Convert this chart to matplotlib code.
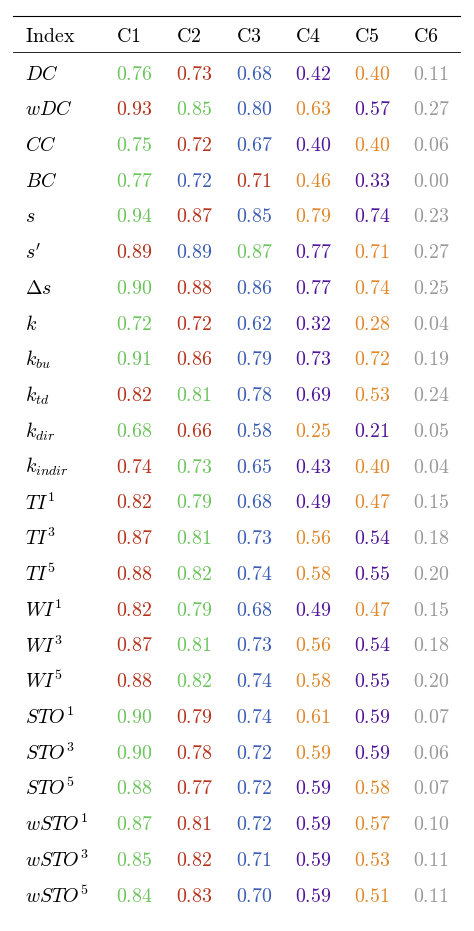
import matplotlib
matplotlib.use("Agg")
import matplotlib.pyplot as plt

plt.rcParams['mathtext.fontset'] = 'cm'

columns = ["Index", "C1", "C2", "C3", "C4", "C5", "C6"]
index_labels = [r"DC", r"wDC", r"CC", r"BC", r"s", r"s'", r"\Delta s", r"k",
                r"k_{bu}", r"k_{td}", r"k_{dir}", r"k_{indir}",
                r"TI^1", r"TI^3", r"TI^5", r"WI^1", r"WI^3", r"WI^5",
                r"STO^1", r"STO^3", r"STO^5", r"wSTO^1", r"wSTO^3", r"wSTO^5"]
values = [
    [0.76, 0.73, 0.68, 0.42, 0.40, 0.11],
    [0.93, 0.85, 0.80, 0.63, 0.57, 0.27],
    [0.75, 0.72, 0.67, 0.40, 0.40, 0.06],
    [0.77, 0.72, 0.71, 0.46, 0.33, 0.00],
    [0.94, 0.87, 0.85, 0.79, 0.74, 0.23],
    [0.89, 0.89, 0.87, 0.77, 0.71, 0.27],
    [0.90, 0.88, 0.86, 0.77, 0.74, 0.25],
    [0.72, 0.72, 0.62, 0.32, 0.28, 0.04],
    [0.91, 0.86, 0.79, 0.73, 0.72, 0.19],
    [0.82, 0.81, 0.78, 0.69, 0.53, 0.24],
    [0.68, 0.66, 0.58, 0.25, 0.21, 0.05],
    [0.74, 0.73, 0.65, 0.43, 0.40, 0.04],
    [0.82, 0.79, 0.68, 0.49, 0.47, 0.15],
    [0.87, 0.81, 0.73, 0.56, 0.54, 0.18],
    [0.88, 0.82, 0.74, 0.58, 0.55, 0.20],
    [0.82, 0.79, 0.68, 0.49, 0.47, 0.15],
    [0.87, 0.81, 0.73, 0.56, 0.54, 0.18],
    [0.88, 0.82, 0.74, 0.58, 0.55, 0.20],
    [0.90, 0.79, 0.74, 0.61, 0.59, 0.07],
    [0.90, 0.78, 0.72, 0.59, 0.59, 0.06],
    [0.88, 0.77, 0.72, 0.59, 0.58, 0.07],
    [0.87, 0.81, 0.72, 0.59, 0.57, 0.10],
    [0.85, 0.82, 0.71, 0.59, 0.53, 0.11],
    [0.84, 0.83, 0.70, 0.59, 0.51, 0.11],
]
color_codes = [
    "grbpoy", "rgbopy", "grbpoy", "gbropy", "grbopy", "rbgpoy", "grbpoy", "grbpoy",
    "grbpoy", "rgbpoy", "grbopy", "rgbpoy", "rgbpoy", "rgbopy", "rgbopy", "rgbpoy",
    "rgbopy", "rgbopy", "grbopy", "grbopy", "grbpoy", "grbpoy", "grbpoy", "grbpoy",
]
palette = {"g": "#6cc45c", "r": "#b5321c", "b": "#3a5cb4", "p": "#51159a",
           "o": "#e0872a", "y": "#999999"}

W, H = 474, 931
fig = plt.figure(figsize=(W/100, H/100), dpi=100)
ax = fig.add_axes([0, 0, 1, 1])
ax.set_xlim(0, W); ax.set_ylim(H, 0); ax.axis('off')

col_x = [25, 116, 176, 236, 295, 354, 413]
fs = 14.3
ax.plot([13, 460], [16, 16], color='black', lw=0.8)
ax.plot([13, 460], [52, 52], color='black', lw=0.6)
for x, c in zip(col_x, columns):
    ax.text(x, 37, r"$\mathrm{%s}$" % c, fontsize=fs, va='center', ha='left')
y0, dy = 74, (896 - 74) / 23
for i, (lab, row, cc) in enumerate(zip(index_labels, values, color_codes)):
    y = y0 + i * dy
    ax.text(col_x[0], y, "$%s$" % lab, fontsize=fs, va='center', ha='left')
    for j, (v, c) in enumerate(zip(row, cc)):
        ax.text(col_x[j+1], y, r"$\mathrm{%.2f}$" % v, fontsize=fs, va='center',
                ha='left', color=palette[c])
fig.savefig("out.png", dpi=100)
